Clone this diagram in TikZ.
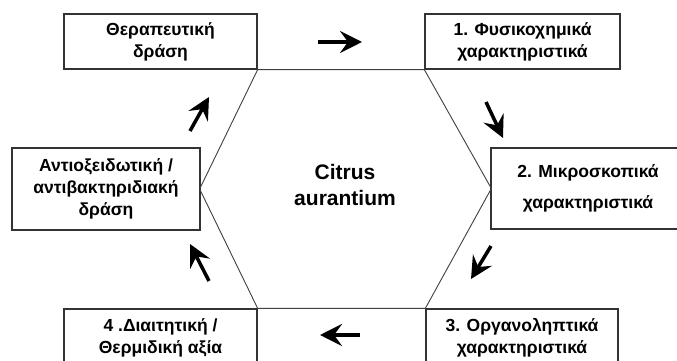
\documentclass[tikz,border=0pt]{standalone}
\usepackage{fontspec}
\setmainfont{Liberation Sans}
\usetikzlibrary{arrows.meta}
\begin{document}
\begin{tikzpicture}[x=1pt,y=1pt,
  box/.style={draw=black!80, line width=1.3pt, fill=white, minimum height=#1, align=center, inner sep=0pt,
    font=\fontsize{17.5}{22}\selectfont\bfseries},
  hexline/.style={draw=black!75, line width=0.9pt},
  flow/.style={line width=3.5pt, -{Stealth[length=22pt,width=22pt,inset=8pt]}}
]
\useasboundingbox (0,0) rectangle (677,361);
\clip (0,0) rectangle (677,361);
\fill[white] (0,0) rectangle (677,361);
% boxes
\node[box=55pt, minimum width=193pt] (tl) at (160.5,319.5) {Θεραπευτική\\δράση};
\node[box=55pt, minimum width=195pt] (tr) at (522.5,319.5) {1. Φυσικοχημικά\\χαρακτηριστικά};
\node[box=81pt, minimum width=194pt] (m2) at (588,172.5) {2. Μικροσκοπικά\\[9pt]χαρακτηριστικά};
\node[box=82pt, minimum width=188pt] (m5) at (106,172) {Αντιοξειδωτική /\\αντιβακτηριδιακή\\δράση};
\node[box=58pt, minimum width=192pt] (b3) at (522,23) {3. Οργανοληπτικά\\χαρακτηριστικά};
\node[box=58pt, minimum width=193pt] (b4) at (160.5,23) {4 .Διαιτητική /\\Θερμιδική αξία};
% hexagon
\draw[hexline] (tl.south east) -- (tr.south west) -- ([xshift=1pt]m2.west) -- (b3.north west) -- (b4.north east) -- ([xshift=-1pt]m5.east) -- cycle;
% centre
\node[font=\fontsize{21}{26}\selectfont\bfseries, align=center] (c) at (345,176) {Citrus\\aurantium};
% arrows
\coordinate (a1s) at (318,319); \coordinate (a1e) at (362,319);
\coordinate (a2s) at (486,259); \coordinate (a2e) at (503,223);
\coordinate (a3s) at (491,115); \coordinate (a3e) at (471,82);
\coordinate (a4s) at (360,26); \coordinate (a4e) at (320,26);
\coordinate (a5s) at (209,80); \coordinate (a5e) at (190,117);
\coordinate (a6s) at (190,230); \coordinate (a6e) at (209,264);
\draw[flow] (a1s) -- (a1e);
\draw[flow] (a2s) -- (a2e);
\draw[flow] (a3s) -- (a3e);
\draw[flow] (a4s) -- (a4e);
\draw[flow] (a5s) -- (a5e);
\draw[flow] (a6s) -- (a6e);
\end{tikzpicture}
\end{document}
